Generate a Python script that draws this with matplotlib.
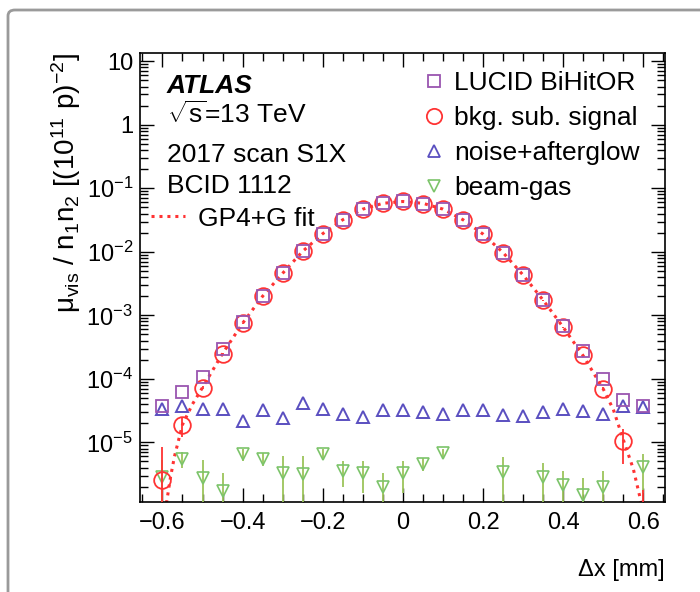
import numpy as np
import matplotlib
matplotlib.use("Agg")
import matplotlib.pyplot as plt
from matplotlib.lines import Line2D
from matplotlib.patches import FancyBboxPatch

plt.rcParams['font.family'] = ['Liberation Sans', 'DejaVu Sans']
plt.rcParams['mathtext.fontset'] = 'custom'
plt.rcParams['mathtext.rm'] = 'Liberation Sans'
plt.rcParams['mathtext.it'] = 'Liberation Sans:italic'
plt.rcParams['mathtext.bf'] = 'Liberation Sans:bold'

# ---------------- data ----------------
dx = [-0.60, -0.55, -0.50, -0.45, -0.40, -0.35, -0.30, -0.25, -0.20, -0.15, -0.10, -0.05,
      0.00, 0.05, 0.10, 0.15, 0.20, 0.25, 0.30, 0.35, 0.40, 0.45, 0.50, 0.55, 0.60]

lucid = [3.8e-5, 6.2e-5, 1.07e-4, 2.9e-4, 7.8e-4, 2.05e-3, 4.6e-3, 1.03e-2, 1.94e-2, 3.2e-2,
         4.7e-2, 5.9e-2, 6.2e-2, 5.7e-2, 4.7e-2, 3.2e-2, 1.89e-2, 9.6e-3, 4.3e-3, 1.75e-3,
         6.8e-4, 2.74e-4, 9.8e-5, 4.6e-5, 3.7e-5]

signal = [2.6e-6, 1.85e-5, 7.2e-5, 2.5e-4, 7.5e-4, 2.0e-3, 4.6e-3, 1.03e-2, 1.94e-2, 3.2e-2,
          4.7e-2, 5.9e-2, 6.2e-2, 5.7e-2, 4.7e-2, 3.2e-2, 1.89e-2, 9.6e-3, 4.3e-3, 1.72e-3,
          6.5e-4, 2.34e-4, 7.0e-5, 1.05e-5, 5.0e-7]
signal_err = [5.8e-6, 6.5e-6, 4e-6, 5e-6, 1e-5, 2e-5, 4e-5, 8e-5, 1.5e-4, 2e-4,
              3e-4, 3e-4, 3e-4, 3e-4, 3e-4, 2e-4, 1.5e-4, 8e-5, 4e-5, 2e-5,
              1e-5, 5e-6, 4e-6, 6e-6, 1.3e-6]

noise = [3.3e-5, 3.7e-5, 3.3e-5, 3.3e-5, 2.17e-5, 3.19e-5, 2.45e-5, 4.16e-5, 3.3e-5, 2.83e-5,
         2.5e-5, 3.27e-5, 3.19e-5, 3.0e-5, 2.83e-5, 3.19e-5, 3.19e-5, 2.66e-5, 2.57e-5, 3.0e-5,
         3.4e-5, 3.1e-5, 2.83e-5, 3.7e-5, 3.6e-5]

beamgas = [2.8e-6, 5.5e-6, 2.7e-6, 1.7e-6, 6.5e-6, 5.5e-6, 3.3e-6, 3.2e-6, 6.6e-6, 3.5e-6,
           3.3e-6, 2.0e-6, 3.3e-6, 4.6e-6, 6.8e-6, np.nan, np.nan, 3.4e-6, np.nan, 2.8e-6,
           2.1e-6, 1.5e-6, 2.0e-6, np.nan, 4.1e-6]
beamgas_err = [2.5e-6, 1.5e-6, 2.5e-6, 1.6e-6, 1.5e-6, 1.2e-6, 2.8e-6, 2.8e-6, 1.2e-6, 1.5e-6,
               1.7e-6, 1.3e-6, 1.7e-6, 1.0e-6, 1.2e-6, np.nan, np.nan, 2.5e-6, np.nan, 2.0e-6,
               1.5e-6, 1.2e-6, 1.5e-6, np.nan, 2.5e-6]

fit_x = [-0.59, -0.58, -0.57, -0.55, -0.525, -0.50, -0.45, -0.40, -0.35, -0.30, -0.25, -0.20,
         -0.15, -0.10, -0.05, 0.00, 0.05, 0.10, 0.15, 0.20, 0.25, 0.30, 0.35, 0.40, 0.45,
         0.50, 0.525, 0.55, 0.575, 0.595]
fit_y = [1.1e-6, 2.8e-6, 6.0e-6, 1.9e-5, 4.0e-5, 7.3e-5, 2.5e-4, 7.5e-4, 2.0e-3, 4.6e-3,
         1.02e-2, 1.93e-2, 3.2e-2, 4.7e-2, 5.8e-2, 6.2e-2, 5.8e-2, 4.7e-2, 3.2e-2, 1.9e-2,
         9.7e-3, 4.3e-3, 1.73e-3, 6.5e-4, 2.3e-4, 6.9e-5, 3.3e-5, 1.1e-5, 3.8e-6, 1.1e-6]

yticks = [1e-5, 1e-4, 1e-3, 1e-2, 1e-1, 1, 10]
ytick_labels = ['10$^{-5}$', '10$^{-4}$', '10$^{-3}$', '10$^{-2}$', '10$^{-1}$', '1', '10']
xticks = [-0.6, -0.4, -0.2, 0, 0.2, 0.4, 0.6]
xtick_labels = ['\u22120.6', '\u22120.4', '\u22120.2', '0', '0.2', '0.4', '0.6']

# ---------------- colours ----------------
c_lucid = '#9a55b0'
c_sig = '#ff3333'
c_noise = '#5a4fc0'
c_bg = '#7cc46a'
c_bg_err = '#9cc45a'

fig = plt.figure(figsize=(7.0, 5.92), dpi=100)
fig.patches.append(FancyBboxPatch((8 / 700, -0.2), 1.2, 1 - 10 / 592 + 0.2,
                                  boxstyle='round,pad=0,rounding_size=0.01',
                                  transform=fig.transFigure, fill=False,
                                  edgecolor='#9a9a9a', linewidth=2.0, figure=fig))
ax = fig.add_axes([0.2, 0.152, 0.75, 0.7585])

ax.set_yscale('log')
ax.set_xlim(-0.656, 0.654)
ax.set_ylim(1.15e-6, 13.5)

ax.plot(fit_x, fit_y, color=c_sig, linestyle=(0, (1, 1.6)), linewidth=2.2, zorder=2)

ax.errorbar(dx, beamgas, yerr=beamgas_err, fmt='v', markersize=9, markerfacecolor='none',
            markeredgecolor=c_bg, markeredgewidth=1.2, ecolor=c_bg_err, elinewidth=1.3,
            capsize=0, zorder=3)
ax.errorbar(dx, signal, yerr=signal_err, fmt='o', markersize=12, markerfacecolor='none',
            markeredgecolor=c_sig, markeredgewidth=1.3, ecolor=c_sig, elinewidth=1.3,
            capsize=0, zorder=4)
ax.plot(dx, noise, linestyle='none', marker='^', markersize=9, markerfacecolor='none',
        markeredgecolor=c_noise, markeredgewidth=1.4, zorder=5)
ax.plot(dx, lucid, linestyle='none', marker='s', markersize=9, markerfacecolor='none',
        markeredgecolor=c_lucid, markeredgewidth=1.3, zorder=5)

ax.set_yticks(yticks)
ax.set_yticklabels(ytick_labels)
ax.yaxis.set_minor_locator(matplotlib.ticker.LogLocator(base=10, subs=np.arange(2, 10), numticks=20))
ax.yaxis.set_minor_formatter(matplotlib.ticker.NullFormatter())
ax.set_xticks(xticks)
ax.set_xticklabels(xtick_labels)
ax.xaxis.set_minor_locator(matplotlib.ticker.MultipleLocator(0.05))

ax.tick_params(which='both', direction='in', top=True, right=True, labelsize=17, width=1.0)
ax.tick_params(which='major', length=10)
ax.tick_params(which='minor', length=5.5)
ax.tick_params(axis='x', which='major', pad=7)
ax.tick_params(axis='y', which='major', pad=5)
for s in ax.spines.values():
    s.set_linewidth(1.2)

ax.set_xlabel('\u0394x [mm]', fontsize=17, loc='right', labelpad=18)
ax.set_ylabel('\u03bc$_{\\mathrm{vis}}$ / n$_{1}$n$_{2}$ [(10$^{11}$ p)$^{-2}$]',
              fontsize=20, loc='top', labelpad=2)

# text block
tfs = 19
ax.text(0.051, 0.911, 'ATLAS', transform=ax.transAxes, fontsize=tfs,
        fontweight='bold', fontstyle='italic')
ax.text(0.051, 0.844, '$\\sqrt{\\mathrm{s}}$=13 TeV', transform=ax.transAxes, fontsize=tfs)
ax.text(0.051, 0.757, '2017 scan S1X', transform=ax.transAxes, fontsize=tfs)
ax.text(0.051, 0.688, 'BCID 1112', transform=ax.transAxes, fontsize=tfs)

fit_handle = Line2D([], [], color=c_sig, linestyle=(0, (1, 1.6)), linewidth=2.2)
leg1 = ax.legend([fit_handle], ['GP4+G fit'], loc='upper left', bbox_to_anchor=(0.02, 0.658),
                 frameon=False, fontsize=tfs, handlelength=1.3, handletextpad=0.5,
                 borderaxespad=0, borderpad=0)
ax.add_artist(leg1)

h_lucid = Line2D([], [], linestyle='none', marker='s', markersize=9, markerfacecolor='none',
                 markeredgecolor=c_lucid, markeredgewidth=1.3)
h_sig = Line2D([], [], linestyle='none', marker='o', markersize=11, markerfacecolor='none',
               markeredgecolor=c_sig, markeredgewidth=1.3)
h_noise = Line2D([], [], linestyle='none', marker='^', markersize=9, markerfacecolor='none',
                 markeredgecolor=c_noise, markeredgewidth=1.3)
h_bg = Line2D([], [], linestyle='none', marker='v', markersize=9, markerfacecolor='none',
              markeredgecolor=c_bg, markeredgewidth=1.2)
ax.legend([h_lucid, h_sig, h_noise, h_bg],
          ['LUCID BiHitOR', 'bkg. sub. signal', 'noise+afterglow', 'beam-gas'],
          loc='upper left', bbox_to_anchor=(0.545, 0.96), frameon=False, fontsize=tfs,
          handlelength=0.6, handletextpad=0.45, labelspacing=0.42,
          borderaxespad=0, borderpad=0)

fig.savefig('out.png', dpi=100)
